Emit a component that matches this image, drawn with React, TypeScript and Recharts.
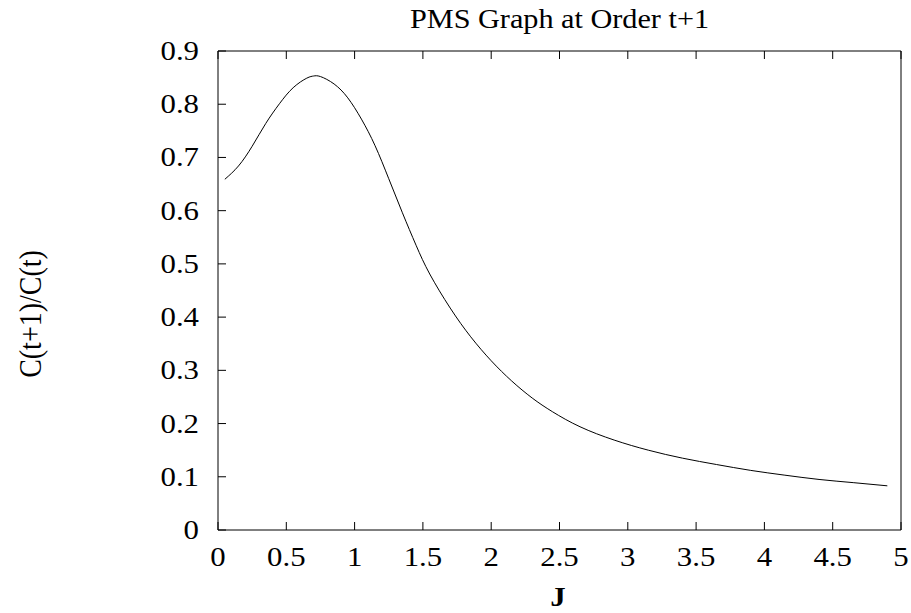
import { LineChart, Line, XAxis, YAxis } from 'recharts';

const jValues = [0.05, 0.15, 0.25, 0.35, 0.45, 0.55, 0.65, 0.7, 0.75, 0.85, 0.95, 1.05, 1.15, 1.25, 1.35, 1.45, 1.55, 1.7, 1.85, 2.0, 2.15, 2.3, 2.45, 2.65, 2.9, 3.15, 3.4, 3.65, 3.9, 4.15, 4.4, 4.65, 4.9];
const ratioValues = [0.659, 0.684, 0.721, 0.764, 0.801, 0.831, 0.849, 0.853, 0.852, 0.838, 0.812, 0.772, 0.722, 0.66, 0.596, 0.535, 0.481, 0.417, 0.363, 0.318, 0.28, 0.248, 0.222, 0.194, 0.169, 0.15, 0.135, 0.123, 0.112, 0.103, 0.095, 0.089, 0.083];
const xTicks = [0, 0.5, 1, 1.5, 2, 2.5, 3, 3.5, 4, 4.5, 5];
const yTicks = [0, 0.1, 0.2, 0.3, 0.4, 0.5, 0.6, 0.7, 0.8, 0.9];

const data = jValues.map((j, i) => ({ j, ratio: ratioValues[i] }));

const FONT = '"Liberation Serif", "DejaVu Serif", serif';
const STRETCH = 1.1;
const FS = 28;
const TICK_LEN = 8;

function BottomTick({ x, y, payload }: any) {
  return (
    <g>
      <line x1={x} y1={y} x2={x} y2={y - TICK_LEN} stroke="#000" />
      <text transform={`translate(${x},${y + 36}) scale(${STRETCH},1)`} textAnchor="middle" fontFamily={FONT} fontSize={FS} fill="#000">
        {String(payload.value)}
      </text>
    </g>
  );
}

function LeftTick({ x, y, payload }: any) {
  return (
    <g>
      <line x1={x} y1={y} x2={x + TICK_LEN} y2={y} stroke="#000" />
      <text transform={`translate(${x - 19},${y + 9}) scale(${STRETCH},1)`} textAnchor="end" fontFamily={FONT} fontSize={FS} fill="#000">
        {String(payload.value)}
      </text>
    </g>
  );
}

function TopTick({ x, y }: any) {
  return <line x1={x} y1={y} x2={x} y2={y + TICK_LEN} stroke="#000" />;
}

function RightTick({ x, y }: any) {
  return <line x1={x} y1={y} x2={x - TICK_LEN} y2={y} stroke="#000" />;
}

export default function App() {
  return (
    <div style={{ position: 'relative', width: 911, height: 613, background: '#fff' }}>
      <style>{'body{margin:0;background:#fff}'}</style>
      <LineChart width={911} height={613} data={data} margin={{ top: 50, right: 9, bottom: 82, left: 217 }}>
        <XAxis xAxisId="b" dataKey="j" type="number" domain={[0, 5]} ticks={xTicks} height={1} tickSize={0} tickMargin={0} tickLine={false} axisLine={{ stroke: '#000' }} tick={<BottomTick />} interval={0} />
        <XAxis xAxisId="t" dataKey="j" type="number" orientation="top" domain={[0, 5]} ticks={xTicks} height={1} tickSize={0} tickMargin={0} tickLine={false} axisLine={{ stroke: '#000' }} tick={<TopTick />} interval={0} />
        <YAxis yAxisId="l" type="number" domain={[0, 0.9]} ticks={yTicks} width={1} tickSize={0} tickMargin={0} tickLine={false} axisLine={{ stroke: '#000' }} tick={<LeftTick />} interval={0} />
        <YAxis yAxisId="r" type="number" orientation="right" domain={[0, 0.9]} ticks={yTicks} width={1} tickSize={0} tickMargin={0} tickLine={false} axisLine={{ stroke: '#000' }} tick={<RightTick />} interval={0} />
        <Line xAxisId="b" yAxisId="l" type="natural" dataKey="ratio" stroke="#000" strokeWidth={1} dot={false} isAnimationActive={false} />
      </LineChart>
      <svg width={911} height={613} style={{ position: 'absolute', left: 0, top: 0, pointerEvents: 'none' }}>
        <text transform={`translate(559.5,28) scale(1.08,1)`} textAnchor="middle" fontFamily={FONT} fontSize={28} fill="#000">
          PMS Graph at Order t+1
        </text>
        <text transform={`translate(558,606) scale(${STRETCH},1)`} textAnchor="middle" fontFamily={FONT} fontSize={FS} fontWeight="bold" fill="#000">
          J
        </text>
        <text transform={`translate(41,314) scale(${STRETCH},1) rotate(-90)`} textAnchor="middle" fontFamily={FONT} fontSize={FS} fill="#000">
          C(t+1)/C(t)
        </text>
      </svg>
    </div>
  );
}
